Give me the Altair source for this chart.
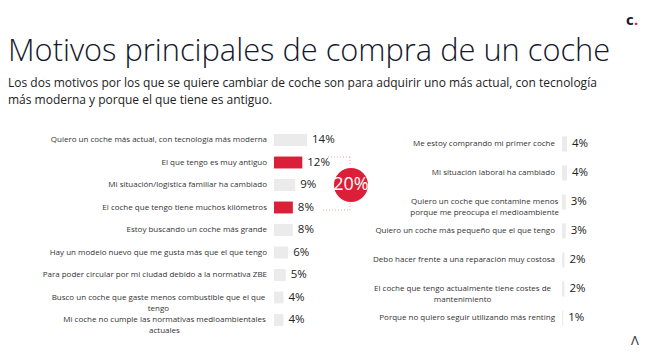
import altair as alt
import pandas as pd

# ---------------- data ----------------
title_text = "Motivos principales de compra de un coche"
subtitle_lines = [
    "Los dos motivos por los que se quiere cambiar de coche son para adquirir uno más actual, con tecnología",
    "más moderna y porque el que tiene es antiguo.",
]

left_labels = [
    "Quiero un coche más actual, con tecnología más  moderna",
    "El que tengo es muy antiguo",
    "Mi situación/logística familiar ha cambiado",
    "El coche que tengo tiene muchos kilómetros",
    "Estoy buscando un coche más grande",
    "Hay un modelo nuevo que me gusta más que el que  tengo",
    "Para poder circular por mi ciudad debido a la  normativa ZBE",
    "Busco un coche que gaste menos combustible que el  que\ntengo",
    "Mi coche no cumple las normativas  medioambientales\nactuales",
]
left_values = [14, 12, 9, 8, 8, 6, 5, 4, 4]
left_highlight = [False, True, False, True, False, False, False, False, False]

right_labels = [
    "Me estoy comprando mi primer coche",
    "Mi situación laboral ha cambiado",
    "Quiero un coche que contamine menos\nporque me preocupa el medioambiente",
    "Quiero un coche más pequeño que el que tengo",
    "Debo hacer frente a una reparación muy costosa",
    "El coche que tengo actualmente tiene costes de\nmantenimiento",
    "Porque no quiero seguir utilizando más renting",
]
right_values = [4, 4, 3, 3, 2, 2, 1]

callout_text = "20%"
logo_text = "c"
logo_dot = "."
corner_glyph = "Λ"

# ---------------- style ----------------
FONT = "Open Sans"
RED = "#dc1f38"
GREY = "#ebebeb"
DARK = "#15182b"
LABEL = "#333333"
CW = 4.02  # estimated label char width (px) at 8px

LEFT_LABEL_X = 259
RIGHT_LABEL_X = 547


def frame(labels, values, right_x, hl=None):
    rows = []
    for i, (lab, v) in enumerate(zip(labels, values)):
        lines = lab.split("\n")
        multi = len(lines) > 1
        w = max(len(s) for s in lines) * CW
        rows.append(
            dict(
                i=i,
                label=lab,
                value=v,
                pct=f"{v}%",
                hl=bool(hl[i]) if hl else False,
                multi=multi,
                cx=right_x - w / 2 if multi else right_x,
            )
        )
    return pd.DataFrame(rows)


dl = frame(left_labels, left_values, LEFT_LABEL_X, left_highlight)
dr = frame(right_labels, right_values, RIGHT_LABEL_X)


def panel(df, y_range, pad_inner, x_domain, x_range, extra=None):
    ysc = alt.Scale(range=y_range, paddingInner=pad_inner, paddingOuter=pad_inner / 2)
    y = alt.Y("i:O", scale=ysc, axis=None)
    xsc = alt.Scale(domain=x_domain, range=x_range)
    base = alt.Chart(df)
    bars = base.mark_bar().encode(
        x=alt.X("value:Q", scale=xsc, axis=None),
        y=y,
        color=alt.condition("datum.hl", alt.value(RED), alt.value(GREY)),
    )
    pct = base.mark_text(
        align="left", baseline="middle", dx=5, fontSize=11.5, font=FONT, color="#222222"
    ).encode(x=alt.X("value:Q", scale=xsc, axis=None), y=y, text="pct:N")
    single = base.transform_filter("!datum.multi").mark_text(
        align="right", baseline="middle", fontSize=8, font=FONT, color=LABEL
    ).encode(x=alt.X("cx:Q", scale=None), y=y, text="label:N")
    multi = base.transform_filter("datum.multi").mark_text(
        align="center", baseline="middle", fontSize=8, font=FONT, color=LABEL,
        lineBreak="\n", lineHeight=11,
    ).encode(x=alt.X("cx:Q", scale=None), y=y, text="label:N")
    layers = [bars, pct, single, multi]
    if extra:
        layers += extra(y)
    return alt.layer(*layers)


def callout(y):
    cdf = pd.DataFrame({"t": [callout_text], "i": [2]})
    c = alt.Chart(cdf)
    circ = c.mark_circle(size=1160, opacity=1, color=RED).encode(
        x=alt.value(343), y=y
    )
    txt = c.mark_text(
        fontSize=18, font=FONT, color="white", baseline="middle", align="center"
    ).encode(x=alt.value(343), y=y, text="t:N")
    dash = dict(color="#eea3ad", strokeDash=[1, 2], strokeWidth=1)
    r1 = c.mark_rule(**dash).encode(x=alt.value(320), x2=alt.value(342), y=alt.value(149))
    r2 = c.mark_rule(**dash).encode(x=alt.value(342), y=alt.value(149), y2=alt.value(157))
    r3 = c.mark_rule(**dash).encode(x=alt.value(315), x2=alt.value(342), y=alt.value(202))
    r4 = c.mark_rule(**dash).encode(x=alt.value(342), y=alt.value(195), y2=alt.value(202))
    return [r1, r2, r3, r4, circ, txt]


left = panel(dl, [120.75, 323.25], 0.47, [0, 14], [266, 299], callout)
right = panel(dr, [121.5, 324.5], 0.48, [0, 4], [554, 559], None)

tdf = pd.DataFrame({"t": [title_text]})
title = alt.Chart(tdf).mark_text(
    align="left", baseline="alphabetic", fontSize=30.8, fontWeight=300, font=FONT, color=DARK
).encode(x=alt.value(0), y=alt.value(53), text="t:N")

sdf = pd.DataFrame({"t": subtitle_lines, "k": [0, 1]})
sub = alt.Chart(sdf).mark_text(
    align="left", baseline="alphabetic", fontSize=12, font=FONT, color="#222222"
).encode(
    x=alt.value(0),
    y=alt.Y("k:O", scale=alt.Scale(type="point", range=[79, 95.5], padding=0), axis=None),
    text="t:N",
)

ldf = pd.DataFrame({"t": [logo_text], "d": [logo_dot]})
logo = alt.Chart(ldf).mark_text(
    align="left", baseline="alphabetic", fontSize=15, fontWeight="bold", font=FONT, color=DARK
).encode(x=alt.value(618), y=alt.value(16.5), text="t:N")
dot = alt.Chart(ldf).mark_text(
    align="left", baseline="alphabetic", fontSize=15, fontWeight="bold", font=FONT, color=RED
).encode(x=alt.value(626), y=alt.value(16.5), text="d:N")
gdf = pd.DataFrame({"t": [corner_glyph]})
glyph = alt.Chart(gdf).mark_text(
    align="center", baseline="middle", fontSize=13, font=FONT, color="#333333"
).encode(x=alt.value(627), y=alt.value(333), text="t:N")

chart = (
    alt.layer(left, right, title, sub, logo, dot, glyph)
    .resolve_scale(x="independent", y="independent")
    .properties(
        width=634,
        height=343,
        autosize=alt.AutoSizeParams(type="none"),
        padding=0,
        background="white",
    )
    .configure_view(strokeWidth=0)
)

chart.save("out.html", embed_options={"renderer": "svg", "actions": False})
